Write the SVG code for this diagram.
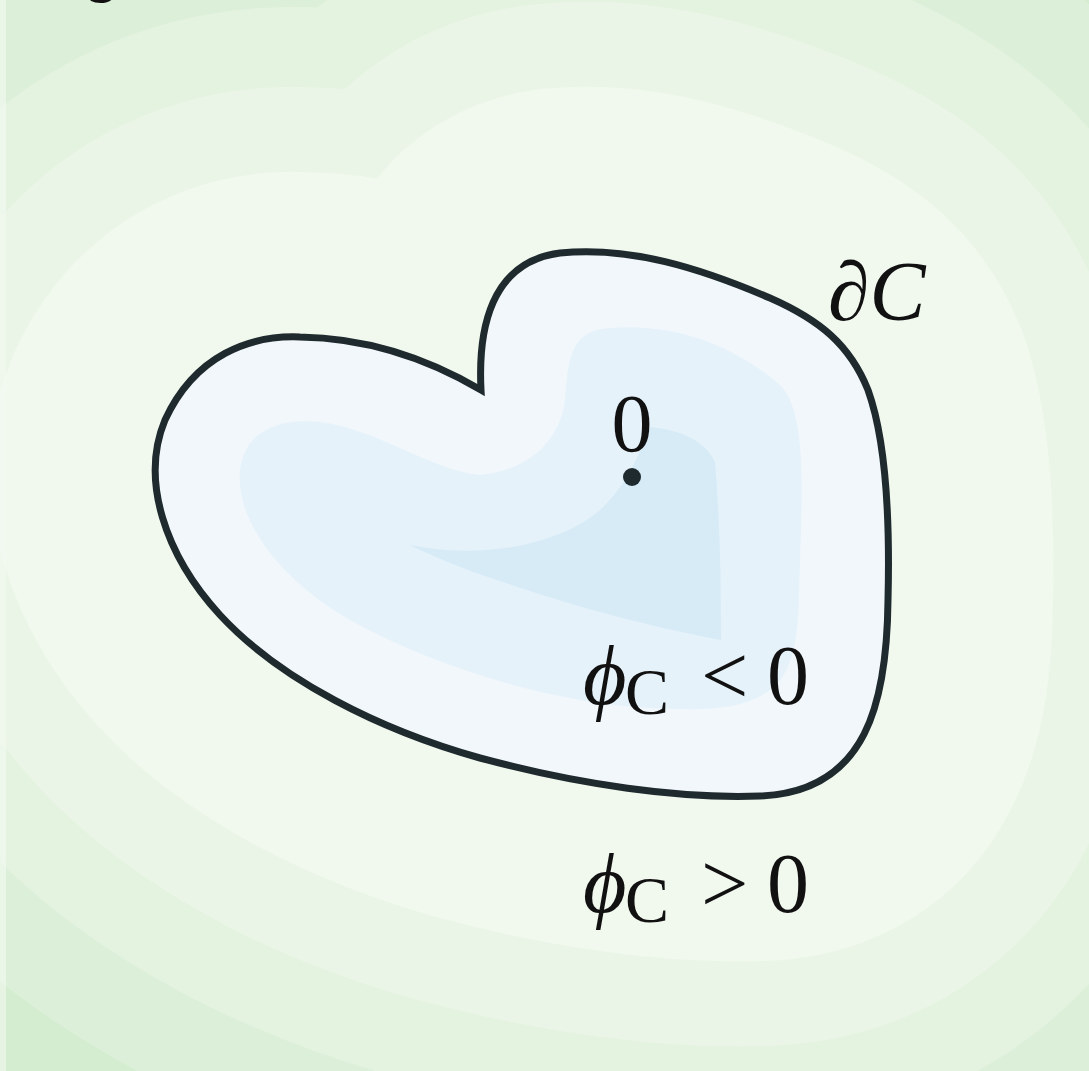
<svg xmlns="http://www.w3.org/2000/svg" width="1089" height="1071" viewBox="0 0 1089 1071">
<defs>
<path id="heart" d="M481,390 C478,330 490,262 560,253 C630,246 700,268 770,298 C820,320 850,345 868,390 C886,440 890,520 888,600 C887,700 868,792 760,796 C680,799 580,785 480,758 C380,730 280,680 220,615 C165,555 140,480 165,420 C195,355 250,335 300,337 C370,338 430,360 481,390 Z"/>
<style>
.band{stroke-linejoin:round}
.math{font-family:"Liberation Serif","DejaVu Serif","Times New Roman",serif;fill:#111}
.title{font-family:"Liberation Sans",Arial,sans-serif;font-weight:bold;fill:#111;font-size:60px}
</style>
</defs>
<g id="background">
<rect x="0" y="0" width="1089" height="1071" fill="#cde9c8"/>
<use href="#heart" class="band" fill="#d4ecd0" stroke="#d4ecd0" stroke-width="1040"/>
<use href="#heart" class="band" fill="#dcefd8" stroke="#dcefd8" stroke-width="840"/>
<use href="#heart" class="band" fill="#e4f2e0" stroke="#e4f2e0" stroke-width="660"/>
<use href="#heart" class="band" fill="#ebf5e7" stroke="#ebf5e7" stroke-width="500"/>
<use href="#heart" class="band" fill="#f1f8ee" stroke="#f1f8ee" stroke-width="330"/>
<rect x="0" y="0" width="6" height="1071" fill="#f4faf2" opacity="0.6"/>
</g>
<g id="title-fragment">
<text class="title" x="83" y="-9">g</text>
<text class="title" x="901" y="-13">(</text>
<text class="title" x="1046" y="-13">)</text>
</g>
<g id="set-C">
<use href="#heart" fill="#f2f7fb"/>
<path id="level-mid" fill="#e5f2fa" d="M480,475 C530,470 560,440 565,400 C568,360 570,330 610,328 C680,322 740,350 780,385 C805,410 803,480 800,560 C798,620 800,668 770,690 C740,712 700,710 650,708 C560,704 440,670 350,620 C280,580 235,520 240,470 C245,430 280,418 320,422 C380,430 430,470 480,475 Z"/>
<path id="level-inner" fill="#d7ebf7" d="M410,545 C480,560 560,545 600,510 C630,482 640,450 650,427 C680,430 705,440 715,462 C720,520 721,580 721,640 C640,625 560,602 497,580 C460,568 430,555 410,545 Z"/>
<use id="boundary" href="#heart" fill="none" stroke="#1e2a2e" stroke-width="7" stroke-linejoin="miter"/>
</g>
<g id="origin">
<circle cx="632" cy="477" r="9" fill="#1e2a2e"/>
<text class="math" x="632" y="451" font-size="82" text-anchor="middle">0</text>
</g>
<g id="labels">
<text class="math" x="828" y="320" font-size="84" font-style="italic">∂C</text>
<text class="math" font-size="84"><tspan x="583" y="704" font-style="italic">ϕ</tspan><tspan x="625" y="714" font-size="66">C</tspan><tspan x="701" y="704">&lt;</tspan><tspan x="767" y="704">0</tspan></text>
<text class="math" font-size="84"><tspan x="583" y="912" font-style="italic">ϕ</tspan><tspan x="625" y="922" font-size="66">C</tspan><tspan x="701" y="912">&gt;</tspan><tspan x="767" y="912">0</tspan></text>
</g>
<g id="connectors"/>
</svg>
